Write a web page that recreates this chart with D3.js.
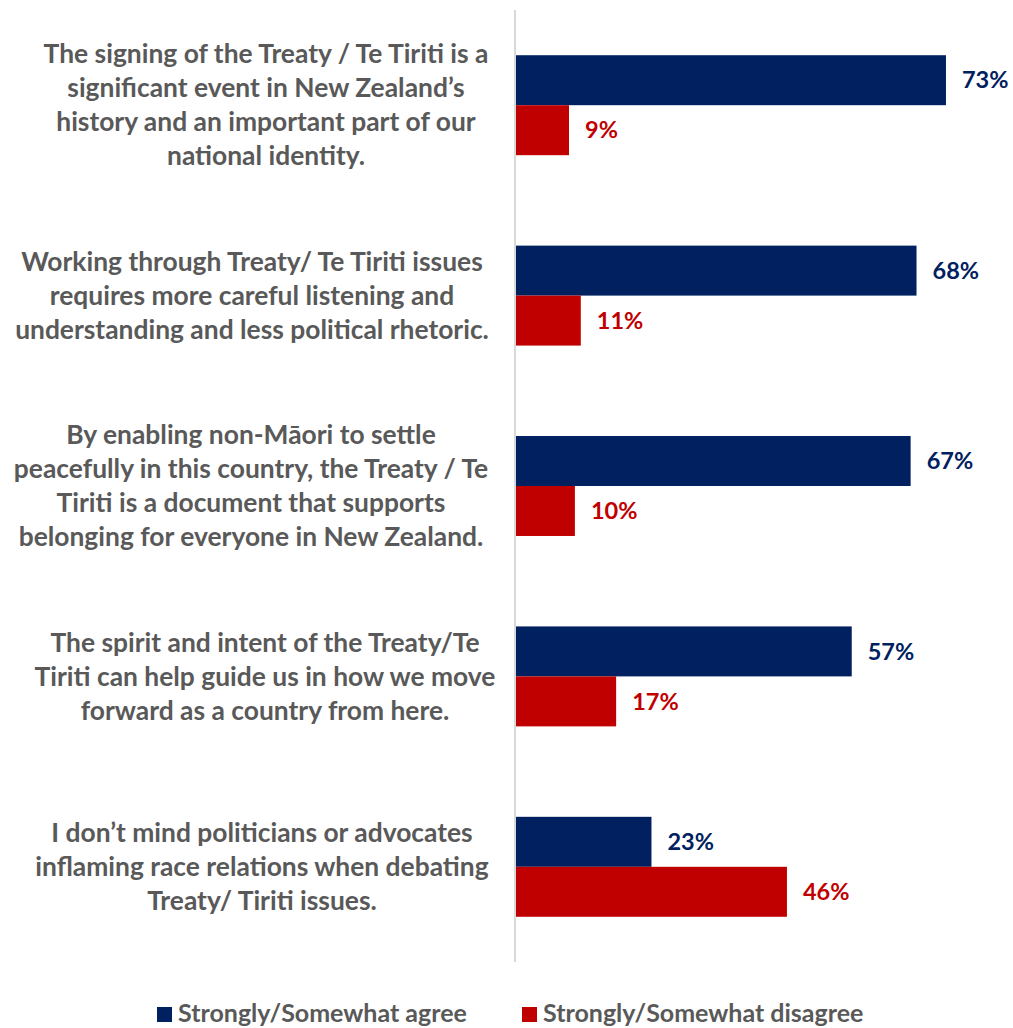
<!DOCTYPE html>
<html><head><meta charset="utf-8">
<script src="https://cdn.jsdelivr.net/npm/d3@7"></script>
<style>body{margin:0;background:#fff}svg{display:block}</style>
</head><body>
<svg id="c" width="1013" height="1028"></svg>
<script>
const categories = [
  ["The signing of the Treaty / Te Tiriti is a","significant event in New Zealand’s","history and an important part of our","national identity."],
  ["Working through Treaty/ Te Tiriti issues","requires more careful listening and","understanding and less political rhetoric."],
  ["By enabling non-Māori to settle","peacefully in this country, the Treaty / Te","Tiriti is a document that supports","belonging for everyone in New Zealand."],
  ["The spirit and intent of the Treaty/Te","Tiriti can help guide us in how we move","forward as a country from here."],
  ["I don’t mind politicians or advocates","inflaming race relations when debating","Treaty/ Tiriti issues."]
];
const seriesNames = ["Strongly/Somewhat agree","Strongly/Somewhat disagree"];
const agree = [73, 68, 67, 57, 23];
const disagree = [9, 11, 10, 17, 46];
const colors = ["#002060", "#C00000"];

const svg = d3.select("#c");
const font = "Lato, 'Open Sans', sans-serif";
const ids = d3.range(categories.length);
const y = d3.scaleBand().domain(ids).range([10, 962]).paddingInner(0.475).paddingOuter(0.2375);
const x = d3.scaleLinear().domain([0, 100]).range([516, 516 + 589]);
const sub = d3.scaleBand().domain([0,1]).range([0, y.bandwidth()]);

const series = [agree, disagree];
series.forEach((vals, si) => {
  const g = svg.append("g");
  g.selectAll("rect").data(vals).join("rect")
    .attr("x", x(0)).attr("y", (d,i) => y(i) + sub(si))
    .attr("width", d => x(d) - x(0)).attr("height", sub.bandwidth())
    .attr("fill", colors[si]);
  g.selectAll("text").data(vals).join("text")
    .attr("x", d => x(d) + 16).attr("y", (d,i) => y(i) + sub(si) + sub.bandwidth()/2)
    .attr("dy", "0.35em").attr("fill", colors[si])
    .attr("font-family", font).attr("font-weight", "bold").attr("font-size", 23.5)
    .text(d => d + "%");
});

// axis line
svg.append("line").attr("x1", 515).attr("x2", 515).attr("y1", 10).attr("y2", 962)
  .attr("stroke", "#d9d9d9").attr("stroke-width", 2);

// category labels (text boxes are centred at slightly different x)
const labelCx = [266, 252, 251, 265, 262];
const lh = 34;
categories.forEach((lines, i) => {
  const cy = y(i) + y.bandwidth()/2;
  const t = svg.append("text").attr("text-anchor", "middle")
    .attr("font-family", font).attr("font-weight", "bold").attr("font-size", 26.4)
    .attr("fill", "#595959");
  lines.forEach((ln, j) => {
    t.append("tspan").attr("x", labelCx[i])
      .attr("y", cy + (j - (lines.length-1)/2) * lh).attr("dy", "0.35em").text(ln);
  });
});

// legend
const legX = [157, 522];
seriesNames.forEach((n, i) => {
  svg.append("rect").attr("x", legX[i]).attr("y", 1007).attr("width", 15).attr("height", 15).attr("fill", colors[i]);
  svg.append("text").attr("x", legX[i] + 21).attr("y", 1022)
    .attr("font-family", font).attr("font-weight", "bold").attr("font-size", 25)
    .attr("fill", "#595959").text(n);
});
</script>
</body></html>
